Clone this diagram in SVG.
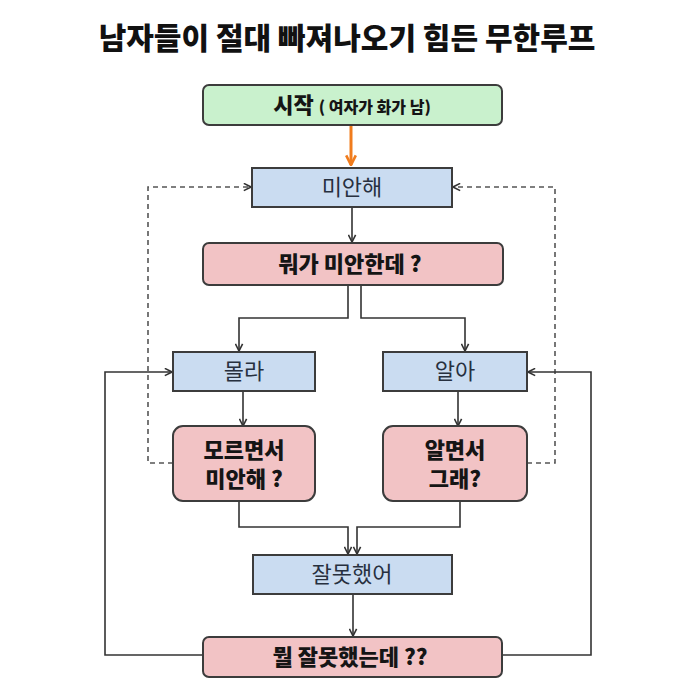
<svg xmlns="http://www.w3.org/2000/svg" width="700" height="700" viewBox="0 0 700 700">
<style>
.t{font-family:"Noto Sans CJK KR","Noto Sans",sans-serif}
.title{font-size:30px;font-weight:900;fill:#111}
.g{fill:#c9f1cd;stroke:#3c3c3c;stroke-width:2}
.b{fill:#cadcf1;stroke:#3c3c3c;stroke-width:2}
.p{fill:#f2c3c5;stroke:#3c3c3c;stroke-width:2}
.bt{font-size:22px;fill:#27303f;text-anchor:middle}
.pt{font-size:22px;font-weight:900;fill:#151515;text-anchor:middle}
.ln{fill:none;stroke:#333;stroke-width:1.6}
.ds{fill:none;stroke:#555;stroke-width:1.6;stroke-dasharray:5,4}
</style>
<defs>
<marker id="ah" viewBox="0 0 10 10" refX="9" refY="5" markerWidth="9" markerHeight="9" markerUnits="userSpaceOnUse" orient="auto">
<path d="M1,1 L9,5 L1,9" fill="none" stroke="#333" stroke-width="1.8"/>
</marker>
<marker id="oh" viewBox="0 0 10 10" refX="9" refY="5" markerWidth="12" markerHeight="12" markerUnits="userSpaceOnUse" orient="auto">
<path d="M1,1 L9,5 L1,9" fill="none" stroke="#f07c1d" stroke-width="2.2"/>
</marker>
</defs>
<rect width="700" height="700" fill="#ffffff"/>
<text class="t title" x="347" y="49" text-anchor="middle">남자들이 절대 빠져나오기 힘든 무한루프</text>
<g id="connectors">
<line x1="351" y1="126" x2="351" y2="165" stroke="#f07c1d" stroke-width="3" marker-end="url(#oh)"/>
<line class="ln" x1="352" y1="207" x2="352" y2="242" marker-end="url(#ah)"/>
<path class="ln" d="M348,285 V318 H239 V351" marker-end="url(#ah)"/>
<path class="ln" d="M361,285 V318 H465 V351" marker-end="url(#ah)"/>
<line class="ln" x1="243" y1="391" x2="243" y2="426" marker-end="url(#ah)"/>
<line class="ln" x1="458" y1="391" x2="458" y2="426" marker-end="url(#ah)"/>
<path class="ds" d="M173,463 H148 V187 H251" marker-end="url(#ah)"/>
<path class="ds" d="M527,463 H555 V187 H453" marker-end="url(#ah)"/>
<path class="ln" d="M239,501 V527 H348 V554" marker-end="url(#ah)"/>
<path class="ln" d="M460,501 V527 H357 V554" marker-end="url(#ah)"/>
<line class="ln" x1="353" y1="594" x2="353" y2="636" marker-end="url(#ah)"/>
<path class="ln" d="M203,655 H105 V372 H172" marker-end="url(#ah)"/>
<path class="ln" d="M502,655 H591 V372 H528" marker-end="url(#ah)"/>
</g>
<g id="start">
<rect class="g" x="203" y="85" width="299" height="40" rx="6"/>
<text class="t" x="352" y="113" text-anchor="middle" font-weight="900" fill="#151515"><tspan font-size="22">시작</tspan><tspan font-size="16" dx="5">( 여자가 화가 남)</tspan></text>
</g>
<g id="sorry">
<rect class="b" x="252" y="168" width="200" height="39"/>
<text class="t bt" x="352" y="195">미안해</text>
</g>
<g id="whatsorry">
<rect class="p" x="203" y="243" width="300" height="42" rx="6"/>
<text class="t pt" x="350" y="272">뭐가 미안한데 ?</text>
</g>
<g id="dontknow">
<rect class="b" x="173" y="352" width="142" height="39"/>
<text class="t bt" x="244" y="379">몰라</text>
</g>
<g id="know">
<rect class="b" x="383" y="352" width="144" height="39"/>
<text class="t bt" x="455" y="379">알아</text>
</g>
<g id="dontknowsorry">
<rect class="p" x="173" y="426" width="142" height="75" rx="10"/>
<text class="t pt" x="244" y="458">모르면서</text>
<text class="t pt" x="244" y="487">미안해 ?</text>
</g>
<g id="knowwhy">
<rect class="p" x="383" y="426" width="144" height="75" rx="10"/>
<text class="t pt" x="455" y="458">알면서</text>
<text class="t pt" x="455" y="487">그래?</text>
</g>
<g id="mywrong">
<rect class="b" x="253" y="555" width="199" height="39"/>
<text class="t bt" x="352" y="582">잘못했어</text>
</g>
<g id="whatwrong">
<rect class="p" x="203" y="637" width="299" height="40" rx="6"/>
<text class="t pt" x="350" y="665">뭘 잘못했는데 ??</text>
</g>
</svg>
